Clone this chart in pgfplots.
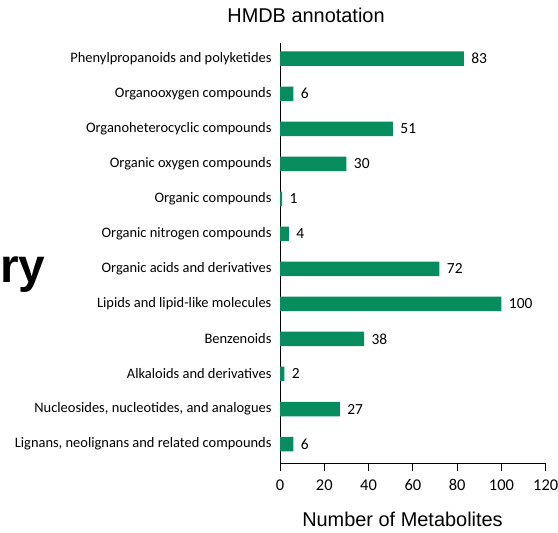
\documentclass[border=0pt]{standalone}
\usepackage{fontspec}
\setmainfont{Carlito}
\newfontfamily\arial{Liberation Sans}
\usepackage{pgfplots}
\pgfplotsset{compat=1.18}
\definecolor{barg}{HTML}{078C5E}
\begin{document}
\begin{tikzpicture}[x=1bp,y=1bp]
\useasboundingbox (0,0) rectangle (558,533);
\begin{axis}[
  at={(280bp,69bp)}, anchor=south west,
  scale only axis, width=265.7bp, height=421bp,
  xbar, bar width=14.5bp,
  xmin=0, xmax=120, ymin=-0.57, ymax=11.45,
  axis x line*=bottom, axis y line*=left,
  axis line style={-, black, line width=1bp},
  xtick={0,20,...,120}, tick align=outside, major tick length=7bp,
  xtick style={black, line width=1bp},
  ytick={0,...,11},
  yticklabels={{Lignans, neolignans and related compounds},
    {Nucleosides, nucleotides, and analogues},
    Alkaloids and derivatives, Benzenoids, Lipids and lipid-like molecules,
    Organic acids and derivatives, Organic nitrogen compounds, Organic compounds,
    Organic oxygen compounds, Organoheterocyclic compounds, Organooxygen compounds,
    Phenylpropanoids and polyketides},
  ytick style={draw=none},
  yticklabel style={font=\fontsize{14.5}{16}\selectfont, xshift=2bp},
  xticklabel style={font=\fontsize{16.5}{18}\selectfont, yshift=-5bp},
  /pgf/number format/assume math mode=true,
  nodes near coords,
  nodes near coords style={font=\fontsize{15.5}{17}\selectfont, anchor=west, xshift=4bp, text=black},
  xlabel={Number of Metabolites},
  xlabel style={font=\arial\fontsize{20}{24}\selectfont, at={(rel axis cs:0.461,0)}, anchor=center, yshift=-55bp},
]
\addplot[fill=barg, draw=none] coordinates {
  (6,0) (27,1) (2,2) (38,3) (100,4) (72,5) (4,6) (1,7) (30,8) (51,9) (6,10) (83,11)};
\end{axis}
\node[font=\arial\fontsize{20}{24}\selectfont] at (306,518) {HMDB annotation};
\node[font=\arial\bfseries\fontsize{48}{56}\selectfont, anchor=base west, inner sep=0pt] at (0,250) {ry};
\end{tikzpicture}
\end{document}
